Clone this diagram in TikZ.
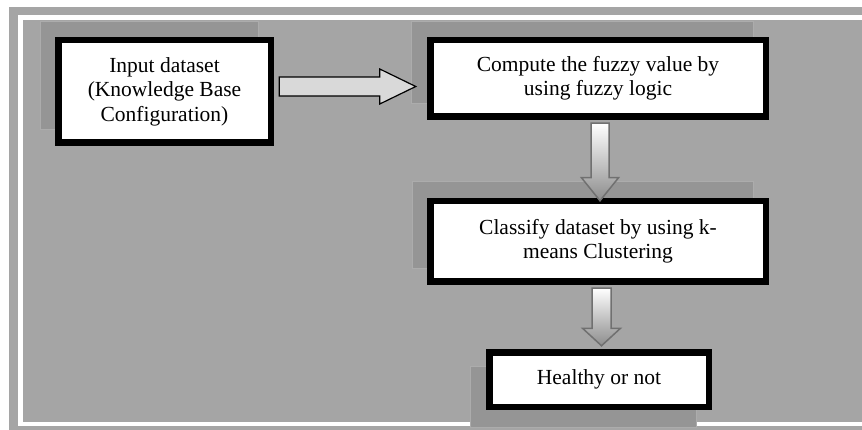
\documentclass[tikz,border=0pt]{standalone}
\usepackage{fontspec}
\setmainfont{Liberation Serif}
\usetikzlibrary{calc}
\definecolor{bggray}{RGB}{165,165,165}
\definecolor{shgray}{RGB}{149,149,149}
\definecolor{shline}{RGB}{172,172,172}
\definecolor{arrfill}{RGB}{217,217,217}
\definecolor{arrshadow}{RGB}{120,120,120}
\definecolor{arrline}{RGB}{112,112,112}
\definecolor{arrbottom}{RGB}{140,140,140}
\tikzset{
  stepbox/.style={draw=black, line width=6.5pt, fill=white, inner sep=0pt,
    align=center, font=\fontsize{21.5}{24.5}\selectfont, text=black},
  shadowbox/.style={fill=shgray, draw=shline, line width=1pt},
  harrow/.style={fill=arrfill, draw=black, line width=1.2pt, line join=miter},
  varrow/.style={top color=white, bottom color=arrbottom, draw=arrline, line width=1.5pt, line join=miter},
  arrshad/.style={fill=arrshadow, draw=none}
}
\begin{document}
\begin{tikzpicture}[x=1pt,y=-1pt]
\useasboundingbox (0,0) rectangle (862,430);
\fill[white] (0,0) rectangle (862,430);
% frame
\fill[bggray] (9,7) rectangle (862,430);
\fill[white] (18,15.5) rectangle (862,425.5);
\fill[bggray] (23,20) rectangle (862,422);
% shadows behind boxes
\draw[shadowbox] (40,22) rectangle (258,130);
\draw[shadowbox] (411,22) rectangle (753,104);
\draw[shadowbox] (412,182) rectangle (753,269);
\draw[shadowbox] (470,366) rectangle (696,427);
% boxes
\node[stepbox, minimum width=212.5pt, minimum height=102.5pt] (in) at (164.5,91.5)
  {Input dataset\\(Knowledge Base\\Configuration)};
\node[stepbox, minimum width=335.5pt, minimum height=76.5pt] (fz) at (598,78.5)
  {Compute the fuzzy value by\\using fuzzy logic};
\node[stepbox, minimum width=335.5pt, minimum height=80.5pt] (cl) at (598,241.5)
  {Classify dataset by using k-\\means Clustering};
\node[stepbox, minimum width=219.5pt, minimum height=54.5pt] (hl) at (599,379.5)
  {Healthy or not};
% connector anchors
\coordinate (h1) at ($(in.east)+(5.25,-5)$);
\coordinate (h2) at ($(fz.west)+(-11.25,8)$);
\coordinate (v1) at ($(fz.south)+(2,3.25)$);
\coordinate (t1) at ($(cl.north)+(2,2.75)$);
\coordinate (v2) at ($(cl.south)+(3.5,3.25)$);
\coordinate (t2) at ($(hl.north)+(2.5,-3.25)$);
% horizontal arrow
\begin{scope}[shift={(3,3)}]
\fill[arrshad] ($(h1)+(0,-9.5)$) -- ($(h2)+(-36,-9.5)$) -- ($(h2)+(-36,-17.5)$) -- (h2)
  -- ($(h2)+(-36,17.5)$) -- ($(h2)+(-36,9.5)$) -- ($(h1)+(0,9.5)$) -- cycle;
\end{scope}
\draw[harrow] ($(h1)+(0,-9.5)$) -- ($(h2)+(-36,-9.5)$) -- ($(h2)+(-36,-17.5)$) -- (h2)
  -- ($(h2)+(-36,17.5)$) -- ($(h2)+(-36,9.5)$) -- ($(h1)+(0,9.5)$) -- cycle;
% down arrow 1
\begin{scope}[shift={(2.5,2.5)}]
\fill[arrshad] ($(v1)+(-9,0)$) -- ($(t1)+(-9,-23)$) -- ($(t1)+(-18.5,-23)$) -- (t1)
  -- ($(t1)+(18.5,-23)$) -- ($(t1)+(9,-23)$) -- ($(v1)+(9,0)$) -- cycle;
\end{scope}
\draw[varrow] ($(v1)+(-9,0)$) -- ($(t1)+(-9,-23)$) -- ($(t1)+(-18.5,-23)$) -- (t1)
  -- ($(t1)+(18.5,-23)$) -- ($(t1)+(9,-23)$) -- ($(v1)+(9,0)$) -- cycle;
% down arrow 2
\begin{scope}[shift={(2.5,2.5)}]
\fill[arrshad] ($(v2)+(-9.5,0)$) -- ($(t2)+(-9.5,-17.5)$) -- ($(t2)+(-19,-17.5)$) -- (t2)
  -- ($(t2)+(19,-17.5)$) -- ($(t2)+(9.5,-17.5)$) -- ($(v2)+(9.5,0)$) -- cycle;
\end{scope}
\draw[varrow] ($(v2)+(-9.5,0)$) -- ($(t2)+(-9.5,-17.5)$) -- ($(t2)+(-19,-17.5)$) -- (t2)
  -- ($(t2)+(19,-17.5)$) -- ($(t2)+(9.5,-17.5)$) -- ($(v2)+(9.5,0)$) -- cycle;
\end{tikzpicture}
\end{document}
